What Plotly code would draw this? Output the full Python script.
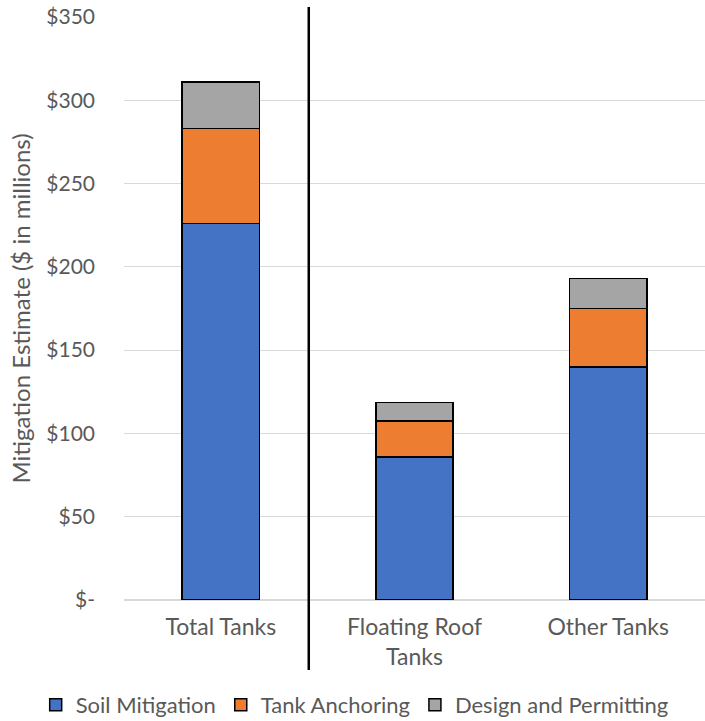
import plotly.graph_objects as go

categories = ["Total Tanks", "Floating Roof<br>Tanks", "Other Tanks"]
soil_mitigation = [226, 86, 140]
tank_anchoring = [57, 21.5, 35]
design_permitting = [28, 11, 18]
tick_vals = [0, 50, 100, 150, 200, 250, 300, 350]
tick_text = ["$-", "$50", "$100", "$150", "$200", "$250", "$300", "$350"]

font_family = "Lato, 'Open Sans', sans-serif"
txt_color = "#595959"

fig = go.Figure()
series = [
    ("Soil Mitigation", soil_mitigation, "#4472C4"),
    ("Tank Anchoring", tank_anchoring, "#ED7D31"),
    ("Design and Permitting", design_permitting, "#A5A5A5"),
]
for name, vals, col in series:
    fig.add_trace(go.Bar(
        x=categories, y=vals, name=name,
        marker=dict(color=col, line=dict(color="#000000", width=1.5)),
        width=0.4,
    ))

fig.add_shape(type="line", xref="x", yref="paper", x0=0.454, x1=0.454,
              y0=-0.120, y1=1.017, line=dict(color="#000000", width=2.5))

fig.update_layout(
    barmode="stack",
    width=705, height=721,
    margin=dict(l=124, r=0, t=17, b=121, autoexpand=False),
    plot_bgcolor="white", paper_bgcolor="white",
    font=dict(family=font_family, size=20, color=txt_color),
    xaxis=dict(showgrid=False, showline=False, ticks="", ticklabelstandoff=11,
               tickfont=dict(size=23, color=txt_color)),
    yaxis=dict(range=[0, 350], tickvals=tick_vals, ticktext=tick_text,
               showgrid=True, gridcolor="#D9D9D9", gridwidth=1, zeroline=True,
               zerolinecolor="#D9D9D9", ticks="", ticklabelstandoff=28,
               ticklabeloverflow="allow",
               title=dict(text="Mitigation Estimate ($ in millions)",
                          font=dict(size=24, color=txt_color), standoff=8),
               tickfont=dict(size=21, color=txt_color)),
    legend=dict(orientation="h", x=-0.152, xanchor="left", y=-0.18, yanchor="middle",
                font=dict(size=22, color=txt_color), traceorder="normal"),
)

fig.write_html("out.html",
               config={"displayModeBar": False},
               post_script="document.body.style.margin='0';document.body.style.overflow='hidden';")
